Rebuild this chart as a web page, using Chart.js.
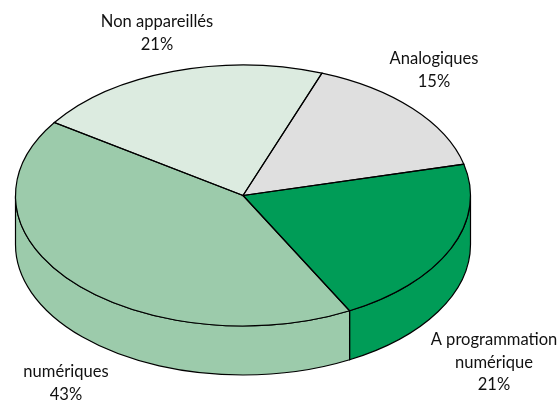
<!DOCTYPE html>
<html>
<head>
<meta charset="utf-8">
<style>
  html, body { margin: 0; padding: 0; background: #fff; }
  canvas { display: block; }
</style>
<script src="https://cdn.jsdelivr.net/npm/chart.js@4"></script>
</head>
<body>
<canvas id="myChart" width="560" height="401"></canvas>
<script>
// shares, printed labels kept apart
let categories = ['Analogiques', 'A programmation numérique', 'numériques', 'Non appareillés'];
let shares = [15.5, 21.1, 42.2, 21.2];
let sliceColors = ['#dfdfdf', '#009c57', '#9ccbab', '#dcebe0'];
let labelLines = [['Analogiques', '15%'], ['A programmation', 'numérique', '21%'], ['numériques', '43%'], ['Non appareillés', '21%']];
let labelX = [434, 494, 66, 157];
let labelY = [64, 345, 377, 27];

// pie squashed into an ellipse
let cx = 243, cy = 195.5, rx = 227.5, ry = 130.5, depth = 49;

function wallsAndTilt(chart) {
    let ctx = chart.ctx;
    let arcs = chart.getDatasetMeta(0).data;
    ctx.save();
    ctx.lineWidth = 1.2;
    ctx.strokeStyle = '#000';
    arcs.forEach(function (arc, i) {
        // only the front half of the rim shows
        let s = Math.max(arc.startAngle, 0);
        let e = Math.min(arc.endAngle, Math.PI);
        if (e <= s) return;
        ctx.beginPath();
        ctx.ellipse(cx, cy, rx, ry, 0, s, e);
        ctx.ellipse(cx, cy + depth, rx, ry, 0, e, s, true);
        ctx.closePath();
        ctx.fillStyle = sliceColors[i];
        ctx.fill();
        ctx.stroke();
    });
    ctx.restore();

    let a = arcs[0];
    ctx.save();
    ctx.translate(cx, cy);
    ctx.scale(rx / a.outerRadius, ry / a.outerRadius);
    ctx.translate(-a.x, -a.y);
}

function outlines(chart) {
    let ctx = chart.ctx;
    ctx.restore();
    ctx.save();
    ctx.lineWidth = 1.2;
    ctx.strokeStyle = '#000';
    chart.getDatasetMeta(0).data.forEach(function (arc) {
        ctx.beginPath();
        ctx.moveTo(cx, cy);
        ctx.ellipse(cx, cy, rx, ry, 0, arc.startAngle, arc.endAngle);
        ctx.closePath();
        ctx.stroke();
    });
    ctx.restore();
}

function sliceLabels(chart) {
    let ctx = chart.ctx;
    ctx.save();
    ctx.font = '18px Lato';
    ctx.fillStyle = '#111';
    ctx.textAlign = 'center';
    ctx.textBaseline = 'alphabetic';
    labelLines.forEach(function (lines, i) {
        lines.forEach(function (line, j) {
            ctx.save();
            ctx.translate(labelX[i], labelY[i] + j * 22.5);
            // the original face is narrower than Lato
            ctx.scale(0.92, 1);
            ctx.fillText(line, 0, 0);
            ctx.restore();
        });
    });
    ctx.restore();
}

new Chart(document.getElementById('myChart'), {
    type: 'pie',
    data: {
        labels: categories,
        datasets: [{
            data: shares,
            backgroundColor: sliceColors,
            borderWidth: 0
        }]
    },
    options: {
        responsive: false,
        animation: false,
        rotation: 20.3,
        plugins: {
            legend: { display: false },
            tooltip: { enabled: false }
        }
    },
    plugins: [{
        id: 'pie3d',
        beforeDatasetsDraw: wallsAndTilt,
        afterDatasetsDraw: outlines,
        afterDraw: sliceLabels
    }]
});
</script>
</body>
</html>
